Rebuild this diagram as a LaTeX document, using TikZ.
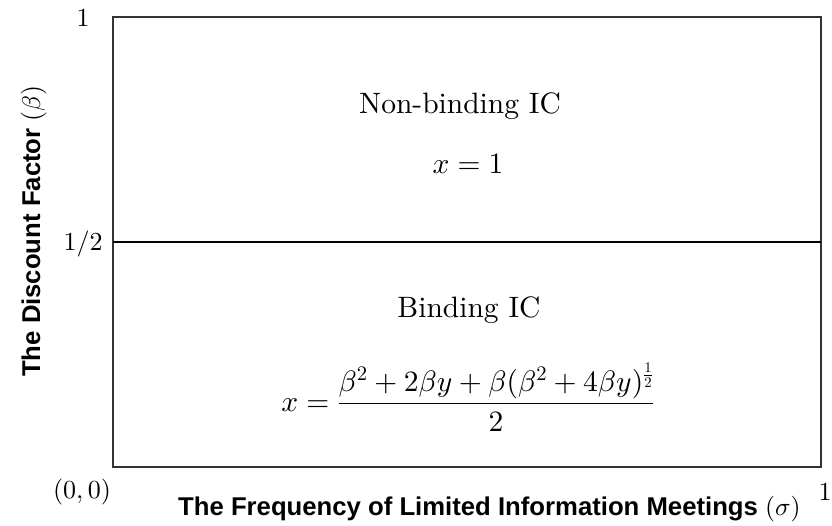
\documentclass[tikz,border=0pt]{standalone}
\usepackage{amsmath}
\usepackage{fontspec}
\setmainfont{lmroman10-regular}[Extension=.otf, BoldFont=lmroman10-bold, ItalicFont=lmroman10-italic]
\newfontfamily\arialfont{Liberation Sans}
\DeclareFontShape{OT1}{cmr}{m}{n}{<->cmr10}{}
\DeclareFontShape{OML}{cmm}{m}{it}{<->cmmi10}{}
\DeclareFontShape{OMS}{cmsy}{m}{n}{<->cmsy10}{}
\begin{document}
\begin{tikzpicture}[x=1pt,y=-1pt,
  lbl/.style={inner sep=0pt, font=\fontsize{29.5}{34}\selectfont},
  tick/.style={inner sep=0pt, font=\fontsize{26}{30}\selectfont},
  axislbl/.style={inner sep=0pt, font=\fontsize{25.7}{30}\selectfont\arialfont\bfseries}]
\useasboundingbox (0,0) rectangle (832,525);
\coordinate (bl) at (113,467);
\coordinate (tr) at (821,17);
\draw[line width=1.4pt, draw=black!80] (bl) rectangle (tr);
\coordinate (hl) at (113,242);
\coordinate (hr) at (821,242);
\draw[line width=2.8pt] (hl) -- (hr);
\node[lbl, anchor=base] (nb) at (460,113) {Non-binding IC};
\node[lbl, anchor=base] (x1) at (468,173) {$x=1$};
\node[lbl, anchor=base] (bi) at (469,317) {Binding IC};
\node[lbl, anchor=base] (fm) at (468,411) {$x=\dfrac{\beta^2+2\beta y+\beta(\beta^2+4\beta y)^{\frac{1}{2}}}{2}$};
\node[tick, anchor=base] (t1) at (83,26) {1};
\node[tick, anchor=base] (th) at (83,250) {$1/2$};
\node[tick, anchor=base] (t0) at (82,498) {$(0,0)$};
\node[tick, anchor=base] (tx) at (825,500) {1};
\node[axislbl, rotate=90, anchor=base west] (yl) at (40,377) {The Discount Factor {\normalfont($\beta$)}};
\node[axislbl, anchor=base west] (xl) at (178,515) {The Frequency of Limited Information Meetings {\normalfont($\sigma$)}};
\end{tikzpicture}
\end{document}
